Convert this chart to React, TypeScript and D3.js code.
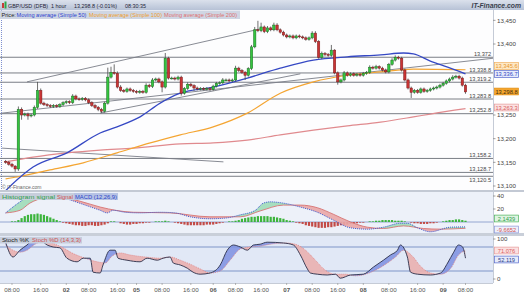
import React from 'react';
import * as d3 from 'd3';

const W = 524;
const H = 297;
const FONT = '"Liberation Sans", Arial, sans-serif';

// ---------------- DATA ----------------
const closes = [
  13150, 13146, 13142, 13136, 13262, 13250, 13252, 13248, 13250, 13266,
  13302, 13275, 13272, 13270, 13268, 13270, 13268, 13272, 13276, 13278,
  13276, 13290, 13284, 13283, 13285, 13282, 13276, 13270, 13266, 13262,
  13258, 13275, 13330, 13340, 13338, 13309, 13302, 13300, 13305, 13302,
  13300, 13298, 13300, 13298, 13313, 13310, 13324, 13326, 13320, 13309,
  13370, 13328, 13328, 13326, 13330, 13296, 13306, 13315, 13312, 13307,
  13305, 13306, 13305, 13306, 13304, 13311, 13317, 13318, 13324, 13324,
  13322, 13324, 13349, 13344, 13340, 13334, 13348, 13394, 13430, 13428,
  13436, 13426, 13434, 13430, 13440, 13430, 13425, 13419, 13415, 13417,
  13413, 13417, 13415, 13413, 13410, 13413, 13423, 13405, 13372, 13380,
  13378, 13376, 13387, 13339, 13320, 13324, 13339, 13334, 13337, 13334,
  13336, 13334, 13338, 13340, 13351, 13349, 13352, 13349, 13345, 13341,
  13357, 13366, 13372, 13370, 13345, 13324, 13307, 13298, 13302, 13298,
  13305, 13300, 13302, 13305, 13307, 13309, 13313, 13317, 13322, 13326,
  13330, 13332, 13328, 13313, 13298.8,
];
const firstOpen = 13152;
const wickUp = [
  3, 3, 3, 2, 6, 4, 3, 3, 3, 4,
  18, 4, 3, 3, 3, 3, 3, 3, 3, 3,
  3, 4, 3, 3, 3, 3, 3, 3, 3, 3,
  3, 3, 20, 12, 17, 4, 4, 3, 3, 3,
  3, 3, 3, 3, 4, 3, 4, 3, 3, 3,
  11, 3, 3, 3, 3, 3, 3, 4, 3, 3,
  3, 3, 3, 3, 3, 3, 3, 3, 4, 3,
  3, 3, 5, 3, 3, 3, 3, 4, 6, 19,
  9, 3, 4, 3, 5, 4, 3, 3, 3, 3,
  3, 3, 3, 3, 3, 3, 4, 4, 3, 4,
  3, 3, 11, 2, 3, 3, 4, 3, 3, 3,
  3, 3, 3, 3, 4, 3, 4, 3, 3, 3,
  3, 4, 4, 3, 3, 3, 3, 3, 3, 3,
  3, 3, 3, 3, 3, 3, 3, 3, 3, 3,
  4, 3, 3, 3, 3,
];
const wickDown = [
  3, 3, 3, 6, 4, 10, 3, 8, 3, 3,
  3, 3, 3, 3, 3, 3, 3, 3, 3, 3,
  3, 3, 3, 3, 3, 3, 3, 3, 3, 4,
  4, 3, 3, 3, 3, 3, 3, 3, 3, 3,
  3, 3, 3, 3, 3, 3, 3, 3, 3, 11,
  3, 3, 3, 3, 3, 5, 3, 3, 3, 6,
  3, 3, 3, 3, 3, 3, 3, 3, 3, 3,
  3, 3, 3, 3, 3, 10, 3, 3, 3, 3,
  3, 3, 3, 3, 3, 3, 3, 3, 3, 3,
  3, 3, 3, 3, 3, 3, 3, 3, 3, 4,
  4, 3, 3, 3, 6, 3, 3, 3, 3, 3,
  3, 3, 3, 3, 3, 3, 3, 3, 3, 3,
  3, 3, 3, 3, 3, 3, 3, 12, 3, 3,
  3, 3, 3, 3, 3, 3, 3, 3, 3, 3,
  3, 3, 3, 3, 4,
];

const ma50 = [[0, 13090], [3.6, 13113], [8.6, 13140], [19.2, 13170], [29.6, 13212], [34.9, 13225], [42.1, 13246], [48.4, 13275], [54.7, 13296], [65, 13309], [75.7, 13328], [86, 13349], [96.4, 13366], [107, 13373], [117.4, 13377], [124.6, 13381], [127.7, 13379], [133, 13364], [138.4, 13351], [144, 13336.7]];
const ma100 = [[0, 13115], [3.6, 13119], [13.9, 13134], [24.3, 13149], [34.9, 13170], [45.3, 13191], [54.7, 13208], [65, 13225], [75.7, 13254], [86, 13296], [96.4, 13320], [107, 13334], [117.4, 13341], [127.7, 13347], [144, 13345.6]];
const ma200 = [[0, 13151], [8.6, 13161], [19.2, 13170], [29.6, 13176], [40, 13180], [54.7, 13189], [65, 13191], [75.7, 13197], [86, 13208], [96.4, 13218], [107, 13227], [117.4, 13235], [127.7, 13246], [133, 13252], [144, 13263.3]];

const levels = [13372, 13338.8, 13319.2, 13283.8, 13252.8, 13158.2, 13128.7, 13120.5];
const levelLabels = ['13,372', '13,338.8', '13,319.2', '13,283.8', '13,252.8', '13,158.2', '13,128.7', '13,120.5'];
const trendLines = [
  [[6.7, 13320], [79.8, 13432]],
  [[-1.1, 13254], [152.8, 13370]],
  [[29.6, 13254], [92.3, 13337]],
  [[-1.1, 13180], [68.2, 13151]],
];
// axis ticks shown (13,300 and 13,350 are hidden behind the value boxes in the reference)
const priceTicks = [13100, 13150, 13200, 13250, 13400, 13450];

const macdHist = [
  0, 0, 1, 1, 3, 6, 9, 11, 12, 12,
  13, 12, 11, 9, 7, 5, 3, 1, -1, -2,
  -3, -4, -5, -5, -6, -6, -5, -5, -6, -6,
  -5, -4, -2, 1, 1, 0, -2, -3, -4, -4,
  -3, -3, -2, -2, -1, -1, 0, 1, 1, 1,
  2, 1, 0, -1, -2, -3, -4, -5, -5, -5,
  -5, -5, -5, -4, -4, -4, -3, -2, -1, 0,
  1, 1, 2, 3, 5, 6, 7, 8, 8, 9,
  9, 9, 9, 8, 8, 7, 6, 5, 3, 2,
  1, -1, -2, -3, -5, -6, -7, -8, -9, -9,
  -9, -8, -8, -7, -6, -5, -5, -4, -3, -3,
  -2, -1, -1, 0, 1, 1, 2, 2, 3, 3,
  3, 3, 2, 2, 2, 1, 0, -1, -2, -2,
  -3, -3, -3, -2, -2, -1, 0, 1, 2, 3,
  3, 4, 4, 3, 2,
];
const macdLine = [[0, 14], [4.5, 31], [6.7, 38], [9.2, 42], [12.4, 42], [16.1, 40], [20.2, 34], [24.9, 26], [29.6, 18], [31.8, 14], [33.7, 18], [37.4, 15], [42.1, 14], [48.4, 15], [53.1, 14], [57.8, 8], [64, 5], [68.8, 6], [73.5, 11], [78.2, 18], [80.7, 29], [82.9, 31], [87, 29], [92.3, 23], [97.6, 15], [102.6, 3], [108, -9], [113.3, -11], [118.3, -8], [123.6, -2], [125.8, -2], [129, -9], [133, -15], [139.3, -8], [144, -7.52]];
const signalLine = [[0, 14], [4.5, 18], [7.6, 29], [12.4, 37], [17, 38], [23.3, 32], [29.6, 23], [40, 15], [51.5, 14], [64, 8], [73.5, 8], [79.7, 17], [87, 26], [92.3, 26], [97.6, 22], [102.6, 12], [108, 0], [113.3, -8], [118.3, -10], [124.6, -6], [130.8, -10], [136.2, -11], [144, -9.67]];

const stochK = [[0, 92], [2.3, 55], [4.5, 72], [6.7, 85], [8.6, 97], [10.8, 97], [13, 85], [14.9, 80], [17, 78], [19.2, 52], [22.4, 43], [24.3, 52], [26.5, 52], [27.4, 17], [29.6, 15], [30.5, 35], [32.7, 72], [34.3, 72], [35.2, 52], [38, 47], [42.1, 43], [44.3, 52], [47.5, 47], [49.3, 52], [51.5, 55], [52.5, 40], [54.7, 35], [56.9, 27], [58.7, 17], [60.9, 12], [64, 15], [67.2, 35], [69.4, 72], [71.3, 85], [73.5, 80], [75.7, 72], [77.6, 85], [79.7, 87], [81.9, 92], [87, 90], [90.1, 85], [92.3, 60], [94.5, 25], [95.4, 15], [97.6, 12], [100.7, 10], [103.3, 12], [104.8, 2], [108, 10], [112, 12], [115.2, 30], [118.3, 47], [120.5, 60], [122.7, 72], [123.6, 85], [125.8, 55], [126.8, 17], [129, 12], [133, 10], [136.2, 15], [138.4, 40], [140.3, 67], [141.8, 85], [143.1, 80], [144, 52.1]];
const stochD = [[0, 85], [2.3, 72], [4.5, 67], [6.7, 72], [9.2, 87], [12.4, 95], [15.5, 87], [18, 78], [20.8, 65], [24.9, 52], [28.7, 43], [31.2, 40], [33.3, 57], [35.9, 65], [39, 60], [43.7, 55], [48.4, 52], [51.5, 55], [54.7, 47], [57.8, 37], [61, 25], [64, 15], [67.2, 20], [70.3, 47], [73.5, 75], [76.6, 80], [79.7, 82], [82.9, 87], [87.6, 90], [90.7, 87], [93.9, 72], [97, 47], [100.1, 22], [103.3, 12], [106.4, 12], [109.5, 8], [112.7, 12], [115.8, 22], [119, 37], [122.1, 55], [124.6, 72], [127.4, 57], [129.9, 32], [133, 15], [136.2, 12], [139.4, 27], [141.8, 60], [144, 71.1]];

const xTicks = [
  { i: 2, t: '08:00' }, { i: 11, t: '16:00' }, { i: 19, t: '02', b: true }, { i: 26, t: '08:00' },
  { i: 35, t: '16:00' }, { i: 41, t: '05', b: true }, { i: 49, t: '08:00' }, { i: 58, t: '16:00' },
  { i: 65, t: '06', b: true }, { i: 72, t: '08:00' }, { i: 80, t: '16:00' }, { i: 88, t: '07', b: true },
  { i: 96, t: '08:00' }, { i: 104, t: '16:00' }, { i: 112, t: '08', b: true }, { i: 120, t: '08:00' },
  { i: 129, t: '16:00' }, { i: 137, t: '09', b: true }, { i: 144, t: '08:00' },
];

// ---------------- LAYOUT ----------------
const PR = 493; // plot right
const P_TOP = 10, P_BOT = 190;
const M_TOP = 192, M_BOT = 233;
const S_TOP = 236, S_BOT = 283;

type Pt = number[];

function ValBox({ y, text, fill, stroke, color }: { y: number; text: string; fill: string; stroke: string; color: string }) {
  return (
    <g>
      <rect x={494.5} y={y - 3.4} width={24} height={6.8} fill={fill} stroke={stroke} strokeWidth={0.7} />
      <text x={506.5} y={y + 2} textAnchor="middle" fontSize={5.7} fill={color}>{text}</text>
    </g>
  );
}

export default function App() {
  const x = d3.scaleLinear().domain([0, 144]).range([5.6, 465.5]);
  const yP = d3.scaleLinear().domain([13100, 13400]).range([186, 44]);
  const yM = d3.scaleLinear().domain([0, 40]).range([222, 196]);
  const yS = d3.scaleLinear().domain([0, 100]).range([279, 239]);

  const lineP = d3.line<Pt>().x(d => x(d[0])).y(d => yP(d[1])).curve(d3.curveMonotoneX);
  const lineM = d3.line<Pt>().x(d => x(d[0])).y(d => yM(d[1])).curve(d3.curveMonotoneX);
  const lineS = d3.line<Pt>().x(d => x(d[0])).y(d => yS(d[1])).curve(d3.curveMonotoneX);
  const straightP = d3.line<Pt>().x(d => x(d[0])).y(d => yP(d[1]));

  const below = (ys: d3.ScaleLinear<number, number>, bot: number) =>
    d3.area<Pt>().x(d => x(d[0])).y0(bot).y1(d => ys(d[1])).curve(d3.curveMonotoneX);
  const above = (ys: d3.ScaleLinear<number, number>, top: number) =>
    d3.area<Pt>().x(d => x(d[0])).y0(top).y1(d => ys(d[1])).curve(d3.curveMonotoneX);

  const candles = closes.map((c, i) => {
    const o = i === 0 ? firstOpen : closes[i - 1];
    const hi = Math.max(o, c) + wickUp[i];
    const lo = Math.min(o, c) - wickDown[i];
    return { i, o, c, hi, lo };
  });

  return (
    <div style={{ position: 'fixed', left: 0, top: 0, width: W, height: H }}>
      <svg width={W} height={H} style={{ display: 'block' }} fontFamily={FONT}>
        <defs>
          <linearGradient id="hdr" x1="0" y1="0" x2="0" y2="1">
            <stop offset="0" stopColor="#dbe1ec" />
            <stop offset="1" stopColor="#b7c2d6" />
          </linearGradient>
          <clipPath id="clipP"><rect x={0} y={P_TOP} width={PR} height={P_BOT - P_TOP} /></clipPath>
          <clipPath id="clipM"><rect x={0} y={M_TOP} width={PR} height={M_BOT - M_TOP} /></clipPath>
          <clipPath id="clipS"><rect x={0} y={S_TOP} width={PR} height={S_BOT - S_TOP} /></clipPath>
          <clipPath id="mA"><path d={below(yM, 300)(macdLine) || ''} /></clipPath>
          <clipPath id="mB"><path d={below(yM, 300)(signalLine) || ''} /></clipPath>
          <clipPath id="sA"><path d={below(yS, 300)(stochK) || ''} /></clipPath>
          <clipPath id="sB"><path d={below(yS, 300)(stochD) || ''} /></clipPath>
        </defs>

        {/* backgrounds */}
        <rect x={0} y={0} width={W} height={H} fill="#ffffff" />
        <rect x={0} y={P_TOP} width={PR} height={P_BOT - P_TOP} fill="#fdfdfe" />
        <rect x={0} y={P_BOT} width={W} height={2} fill="#c3c9d4" />
        <rect x={0} y={M_TOP} width={PR} height={M_BOT - M_TOP} fill="#edf1f9" />
        <rect x={0} y={M_BOT} width={W} height={S_TOP - M_BOT} fill="#c9cfd9" />
        <rect x={0} y={S_TOP} width={PR} height={S_BOT - S_TOP} fill="#e1e8f6" />
        <line x1={PR + 0.5} x2={PR + 0.5} y1={P_TOP} y2={S_BOT} stroke="#c5cbd6" strokeWidth={1} />
        <line x1={0} x2={PR} y1={S_BOT + 0.5} y2={S_BOT + 0.5} stroke="#c5cbd6" strokeWidth={1} />
        <line x1={1.5} x2={1.5} y1={P_TOP} y2={P_BOT} stroke="#7d8fd0" strokeWidth={1} strokeDasharray="1,1" />

        {/* header */}
        <rect x={0} y={0} width={W} height={10} fill="url(#hdr)" />
        <rect x={2} y={3} width={2} height={5} fill="#c83a3a" />
        <rect x={4.5} y={1.5} width={2} height={7} fill="#2fa84a" />
        <g fontSize={5.4} fill="#1d2336">
          <text x={8} y={7.6}>GBP/USD (DFB)</text>
          <text x={51} y={7.6}>1 hour</text>
          <text x={74} y={7.6}>13,298.8 (-0.01%)</text>
          <text x={125} y={7.6}>08:30:35</text>
        </g>
        <text x={521} y={8} textAnchor="end" fontSize={6.8} fontStyle="italic" fontWeight="bold" fill="#3a3f4d">IT-Finance.com</text>

        {/* price legend */}
        <rect x={0} y={10.5} width={240} height={8.5} fill="#cfd6e3" />
        <g fontSize={5.6}>
          <text x={1.5} y={16.9} fill="#222">Price:</text>
          <text x={16.5} y={16.9} fill="#2b3fcf">Moving average (Simple 50)</text>
          <text x={89} y={16.9} fill="#ee9d2a">Moving average (Simple 100)</text>
          <text x={164} y={16.9} fill="#de6f6f">Moving average (Simple 200)</text>
        </g>

        {/* price panel */}
        <g clipPath="url(#clipP)">
          {levels.map((lv, k) => (
            <line key={'lv' + k} x1={0} x2={PR} y1={yP(lv)} y2={yP(lv)} stroke="#6b6f78" strokeWidth={0.9} />
          ))}
          {trendLines.map((tl, k) => (
            <path key={'tl' + k} d={straightP(tl) || ''} stroke="#7a7e88" strokeWidth={0.9} fill="none" />
          ))}
          <path d={lineP(ma200) || ''} stroke="#e08a8e" strokeWidth={1.2} fill="none" />
          <path d={lineP(ma100) || ''} stroke="#f4a532" strokeWidth={1.2} fill="none" />
          <path d={lineP(ma50) || ''} stroke="#3548c4" strokeWidth={1.3} fill="none" />
          {candles.map(d => {
            const cx = x(d.i);
            const up = d.c >= d.o;
            const top = yP(Math.max(d.o, d.c));
            const bot = yP(Math.min(d.o, d.c));
            return (
              <g key={'c' + d.i}>
                <line x1={cx} x2={cx} y1={yP(d.hi)} y2={yP(d.lo)} stroke="#4a4a4a" strokeWidth={0.8} />
                <rect x={cx - 1.2} y={top} width={2.4} height={Math.max(bot - top, 0.8)}
                  fill={up ? '#35c43f' : '#c93434'} stroke={up ? '#1d6e25' : '#7b1c1c'} strokeWidth={0.5} />
              </g>
            );
          })}
          {levels.map((lv, k) => (
            <text key={'ll' + k} x={491} y={k === levels.length - 1 ? yP(lv) + 5.6 : yP(lv) - 1.4}
              textAnchor="end" fontSize={5.6} fill="#444">{levelLabels[k]}</text>
          ))}
        </g>
        <text x={2} y={188.5} fontSize={5} fill="#666">© IT-Finance.com</text>

        {/* price axis */}
        {priceTicks.map(p => (
          <g key={'pt' + p}>
            <line x1={PR} x2={PR + 2.5} y1={yP(p)} y2={yP(p)} stroke="#888" strokeWidth={0.8} />
            <text x={497} y={yP(p) + 2.2} fontSize={6.2} fill="#444">{d3.format(',')(p)}</text>
          </g>
        ))}
        <ValBox y={66} text="13,345.6" fill="#fde8c6" stroke="#f0b060" color="#e8962a" />
        <ValBox y={74} text="13,336.7" fill="#e6ebfb" stroke="#5668cc" color="#3548c4" />
        <ValBox y={91.5} text="13,298.8" fill="#f5a52d" stroke="#e08e14" color="#3a2a10" />
        <ValBox y={107.5} text="13,263.3" fill="#fbe1e1" stroke="#e59a9a" color="#d85c5c" />

        {/* MACD panel */}
        <g clipPath="url(#clipM)">
          <line x1={0} x2={PR} y1={yM(0)} y2={yM(0)} stroke="#7f95c8" strokeWidth={0.8} />
          {macdHist.map((v, i) => (v === 0 ? null : (
            <rect key={'h' + i} x={x(i) - 1.1} width={2.2}
              y={Math.min(yM(v), yM(0))} height={Math.abs(yM(v) - yM(0))}
              fill={v > 0 ? '#3cb43c' : '#c24a46'} />
          )))}
          <path d={above(yM, 150)(signalLine) || ''} clipPath="url(#mA)" fill="#9fdcb8" opacity={0.9} />
          <path d={above(yM, 150)(macdLine) || ''} clipPath="url(#mB)" fill="#e9a6a6" opacity={0.9} />
          <path d={lineM(signalLine) || ''} stroke="#d77474" strokeWidth={0.9} fill="none" />
          <path d={lineM(macdLine) || ''} stroke="#3b57cf" strokeWidth={1} strokeDasharray="1,1" fill="none" />
        </g>
        <rect x={0} y={193} width={118} height={7} fill="#c7cedc" />
        <rect x={74} y={193} width={44} height={7} fill="#b7c3e4" />
        <g fontSize={5.6}>
          <text x={2} y={198.7} fill="#2e9e4a" textLength={53} lengthAdjust="spacingAndGlyphs">Histogram signal</text>
          <text x={57} y={198.7} fill="#d05050" textLength={16} lengthAdjust="spacingAndGlyphs">Signal</text>
          <text x={75} y={198.7} fill="#2a44c8" textLength={42} lengthAdjust="spacingAndGlyphs">MACD (12,26,9)</text>
        </g>
        {[40, 20].map(v => (
          <g key={'mt' + v}>
            <line x1={PR} x2={PR + 2.5} y1={yM(v)} y2={yM(v)} stroke="#888" strokeWidth={0.8} />
            <text x={497} y={yM(v) + 2.2} fontSize={6.2} fill="#444">{v}</text>
          </g>
        ))}
        <ValBox y={218.5} text="2.1439" fill="#dff3e2" stroke="#4cb45c" color="#2e9e4a" />
        <ValBox y={229.5} text="-9.6652" fill="#eef0fb" stroke="#8a98d8" color="#d05050" />

        {/* Stoch panel */}
        <g clipPath="url(#clipS)">
          <line x1={0} x2={PR} y1={yS(80)} y2={yS(80)} stroke="#7f95c8" strokeWidth={1} />
          <line x1={0} x2={PR} y1={yS(20)} y2={yS(20)} stroke="#7f95c8" strokeWidth={1} />
          <path d={above(yS, 200)(stochD) || ''} clipPath="url(#sA)" fill="#7d8fe0" opacity={0.85} />
          <path d={above(yS, 200)(stochK) || ''} clipPath="url(#sB)" fill="#eab0b0" opacity={0.9} />
          <path d={lineS(stochD) || ''} stroke="#e07d7d" strokeWidth={0.8} strokeDasharray="1,1" fill="none" />
          <path d={lineS(stochK) || ''} stroke="#2a2f4a" strokeWidth={0.9} fill="none" />
        </g>
        <rect x={0} y={237} width={82} height={6.5} fill="#c7cedc" />
        <g fontSize={5.6}>
          <text x={2} y={242.4} fill="#222" textLength={27} lengthAdjust="spacingAndGlyphs">Stoch %K</text>
          <text x={32} y={242.4} fill="#d05050" textLength={49} lengthAdjust="spacingAndGlyphs">Stoch %D (14,3,3)</text>
        </g>
        {[100, 0].map(v => (
          <g key={'st' + v}>
            <line x1={PR} x2={PR + 2.5} y1={yS(v)} y2={yS(v)} stroke="#888" strokeWidth={0.8} />
            <text x={497} y={yS(v) + 2.2} fontSize={6.2} fill="#444">{v}</text>
          </g>
        ))}
        <ValBox y={250.5} text="71.076" fill="#fbe1e1" stroke="#e59a9a" color="#d85c5c" />
        <ValBox y={259.5} text="52.119" fill="#e6ebfb" stroke="#5668cc" color="#2a3a8a" />

        {/* x axis */}
        {xTicks.map(t => (
          <g key={'xt' + t.i}>
            <line x1={x(t.i)} x2={x(t.i)} y1={S_BOT} y2={S_BOT + 2} stroke="#999" strokeWidth={0.7} />
            <text x={x(t.i)} y={292} textAnchor="middle" fontSize={6.2} fontWeight={t.b ? 'bold' : 'normal'} fill="#555">{t.t}</text>
          </g>
        ))}
      </svg>
    </div>
  );
}
